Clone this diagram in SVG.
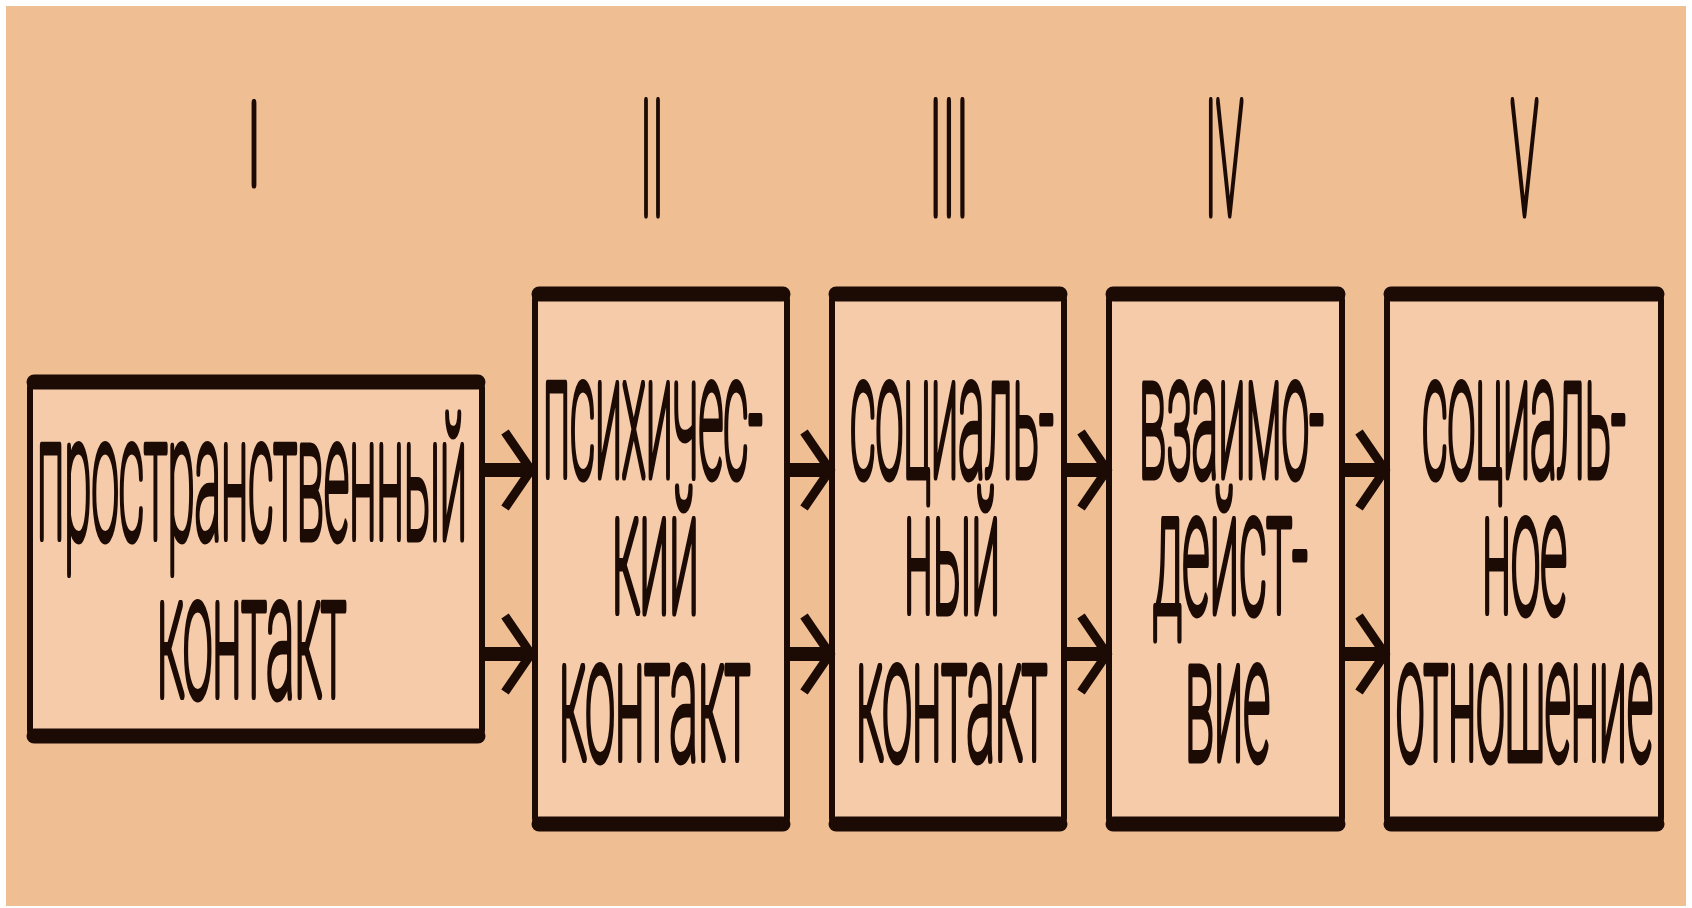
<svg xmlns="http://www.w3.org/2000/svg" width="1692" height="908" viewBox="0 0 1692 908">
<style>
.bg{fill:#F0BE93}
.body{fill:#F5CBA9;stroke:#1C0A05;stroke-width:6}
.bar{stroke:#1C0A05;stroke-width:15;stroke-linecap:round;fill:none}
.t{font-family:Roboto,"Liberation Sans",sans-serif;font-weight:100;font-size:172px;fill:#1C0A05;stroke:#1C0A05;stroke-width:9;stroke-linejoin:round}
.n{font-family:Roboto,"Liberation Sans",sans-serif;font-weight:100;font-size:158px;fill:#1C0A05;stroke:#1C0A05;stroke-width:9;stroke-linejoin:round}
.shaft{stroke:#1C0A05;stroke-width:14;fill:none}
.head{stroke:#1C0A05;stroke-width:9;fill:none;stroke-linejoin:miter}
</style>
<rect width="1692" height="908" fill="#FFFFFF"/>
<rect class="bg" x="6" y="6" width="1680" height="900"/>
<g id="numerals">
<text class="n" x="248" y="184" textLength="12" lengthAdjust="spacingAndGlyphs" style="font-size:114px">I</text>
<text class="n" x="640" y="214" textLength="24" lengthAdjust="spacingAndGlyphs">II</text>
<text class="n" x="929" y="214" textLength="40" lengthAdjust="spacingAndGlyphs">III</text>
<text class="n" x="1205" y="214" textLength="38" lengthAdjust="spacingAndGlyphs">IV</text>
<text class="n" x="1511" y="214" textLength="27" lengthAdjust="spacingAndGlyphs">V</text>
</g>
<g id="node1">
<rect class="body" x="30" y="380" width="452" height="358" rx="8"/>
<line class="bar" x1="34" y1="382" x2="478" y2="382"/>
<line class="bar" x1="34" y1="736" x2="478" y2="736"/>
<text class="t" x="37" y="538" textLength="430" lengthAdjust="spacingAndGlyphs">пространственный</text>
<text class="t" x="157" y="696" textLength="189" lengthAdjust="spacingAndGlyphs">контакт</text>
</g>
<g id="node2">
<rect class="body" x="535" y="292" width="252" height="534" rx="8"/>
<line class="bar" x1="539" y1="294" x2="783" y2="294"/>
<line class="bar" x1="539" y1="824" x2="783" y2="824"/>
<text class="t" x="543" y="476" textLength="220" lengthAdjust="spacingAndGlyphs">психичес-</text>
<text class="t" x="612" y="612" textLength="87" lengthAdjust="spacingAndGlyphs">кий</text>
<text class="t" x="559" y="759" textLength="191" lengthAdjust="spacingAndGlyphs">контакт</text>
</g>
<g id="node3">
<rect class="body" x="832" y="292" width="232" height="534" rx="8"/>
<line class="bar" x1="836" y1="294" x2="1060" y2="294"/>
<line class="bar" x1="836" y1="824" x2="1060" y2="824"/>
<text class="t" x="850" y="476" textLength="204" lengthAdjust="spacingAndGlyphs">социаль-</text>
<text class="t" x="904" y="612" textLength="96" lengthAdjust="spacingAndGlyphs">ный</text>
<text class="t" x="856" y="759" textLength="191" lengthAdjust="spacingAndGlyphs">контакт</text>
</g>
<g id="node4">
<rect class="body" x="1109" y="292" width="233" height="534" rx="8"/>
<line class="bar" x1="1113" y1="294" x2="1338" y2="294"/>
<line class="bar" x1="1113" y1="824" x2="1338" y2="824"/>
<text class="t" x="1139" y="476" textLength="185" lengthAdjust="spacingAndGlyphs">взаимо-</text>
<text class="t" x="1153" y="612" textLength="155" lengthAdjust="spacingAndGlyphs">дейст-</text>
<text class="t" x="1185" y="759" textLength="85" lengthAdjust="spacingAndGlyphs">вие</text>
</g>
<g id="node5">
<rect class="body" x="1387" y="292" width="274" height="534" rx="8"/>
<line class="bar" x1="1391" y1="294" x2="1657" y2="294"/>
<line class="bar" x1="1391" y1="824" x2="1657" y2="824"/>
<text class="t" x="1422" y="476" textLength="204" lengthAdjust="spacingAndGlyphs">социаль-</text>
<text class="t" x="1482" y="612" textLength="85" lengthAdjust="spacingAndGlyphs">ное</text>
<text class="t" x="1396" y="759" textLength="257" lengthAdjust="spacingAndGlyphs">отношение</text>
</g>
<g id="connectors">
<line class="shaft" x1="482" y1="470" x2="528" y2="470"/>
<path class="head" d="M505 432 L531 470 L505 508"/>
<line class="shaft" x1="482" y1="654" x2="528" y2="654"/>
<path class="head" d="M505 616 L531 654 L505 692"/>
<line class="shaft" x1="787" y1="470" x2="827" y2="470"/>
<path class="head" d="M804 432 L830 470 L804 508"/>
<line class="shaft" x1="787" y1="654" x2="827" y2="654"/>
<path class="head" d="M804 616 L830 654 L804 692"/>
<line class="shaft" x1="1064" y1="470" x2="1104" y2="470"/>
<path class="head" d="M1081 432 L1107 470 L1081 508"/>
<line class="shaft" x1="1064" y1="654" x2="1104" y2="654"/>
<path class="head" d="M1081 616 L1107 654 L1081 692"/>
<line class="shaft" x1="1342" y1="470" x2="1382" y2="470"/>
<path class="head" d="M1359 432 L1385 470 L1359 508"/>
<line class="shaft" x1="1342" y1="654" x2="1382" y2="654"/>
<path class="head" d="M1359 616 L1385 654 L1359 692"/>
</g>
</svg>
